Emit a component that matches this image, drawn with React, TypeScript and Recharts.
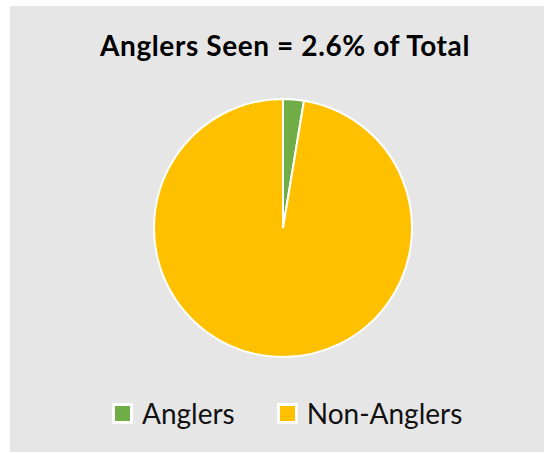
import React from 'react';
import { PieChart, Pie, Cell, Legend } from 'recharts';

const categories = ['Anglers', 'Non-Anglers'];
const values = [2.6, 97.4];
const colors = ['#70ad47', '#ffc000'];

const data = categories.map((name, i) => ({ name, value: values[i] }));

function LegendContent() {
  return (
    <div style={{ display: 'flex', paddingLeft: 102, gap: 42, fontFamily: 'Lato, sans-serif', fontSize: 28, color: '#111', lineHeight: '34px' }}>
      {categories.map((name, i) => (
        <div key={name} style={{ display: 'flex', alignItems: 'center' }}>
          <span style={{ width: 15, height: 15, background: colors[i], border: '3px solid #fff', marginRight: 9 }} />
          <span>{name}</span>
        </div>
      ))}
    </div>
  );
}

export default function App() {
  return (
    <div style={{ position: 'absolute', left: 10, top: 6, width: 534, height: 446, background: '#e6e6e6' }}>
      <div style={{ position: 'absolute', top: 22, left: 8, width: '100%', textAlign: 'center', fontFamily: 'Lato, sans-serif', fontWeight: 700, fontSize: 28, letterSpacing: 0.6, color: '#000' }}>
        Anglers Seen = 2.6% of Total
      </div>
      <PieChart width={534} height={446} margin={{ top: 0, right: 0, bottom: 0, left: 0 }}>
        <Pie
          data={data}
          dataKey="value"
          nameKey="name"
          cx={273}
          cy={222}
          outerRadius={129}
          startAngle={90}
          endAngle={-270}
          stroke="#fff"
          strokeWidth={2}
          isAnimationActive={false}
        >
          {data.map((d, i) => (
            <Cell key={d.name} fill={colors[i]} />
          ))}
        </Pie>
        <Legend wrapperStyle={{ top: 390, bottom: 'auto', left: 0, width: 534 }} content={<LegendContent />} />
      </PieChart>
    </div>
  );
}
